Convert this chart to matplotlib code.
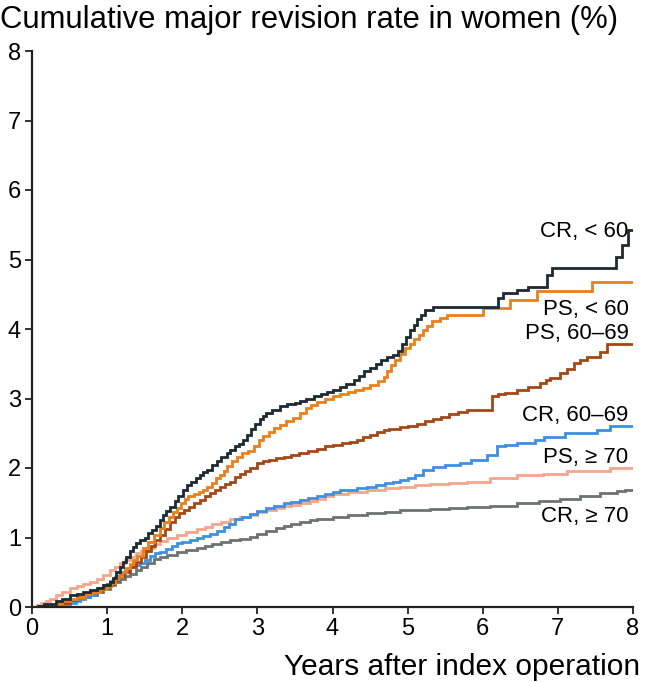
import matplotlib
matplotlib.use("Agg")
import matplotlib.pyplot as plt

plt.rcParams['font.family'] = ['Liberation Sans', 'DejaVu Sans']

# ---- data (years, cumulative %) ----
cr60_t = [0, 0.08, 0.16, 0.24, 0.32, 0.4, 0.51, 0.6, 0.68, 0.77, 0.86, 0.95, 1.04, 1.08, 1.12, 1.17, 1.21, 1.25,
          1.3, 1.35, 1.39, 1.44, 1.5, 1.55, 1.6, 1.65, 1.7, 1.75, 1.79, 1.84, 1.9, 1.95, 2.01, 2.06, 2.12, 2.18,
          2.24, 2.28, 2.33, 2.4, 2.46, 2.52, 2.59, 2.64, 2.7, 2.75, 2.81, 2.86, 2.92, 2.97, 3.03, 3.08, 3.12,
          3.2, 3.3, 3.4, 3.5, 3.57, 3.65, 3.75, 3.85, 3.93, 4.01, 4.1, 4.18, 4.28, 4.35, 4.42, 4.5, 4.58, 4.65,
          4.73, 4.8, 4.87, 4.93, 4.98, 5.03, 5.08, 5.13, 5.18, 5.23, 5.34, 6.2, 6.27, 6.45, 6.6, 6.85, 6.92,
          7.78, 7.85, 7.93, 8.0]
cr60_y = [0, 0.02, 0.04, 0.05, 0.08, 0.11, 0.17, 0.19, 0.21, 0.24, 0.27, 0.31, 0.36, 0.42, 0.5, 0.58, 0.65, 0.72,
          0.8, 0.86, 0.92, 0.96, 1.0, 1.06, 1.11, 1.17, 1.25, 1.32, 1.38, 1.44, 1.52, 1.6, 1.68, 1.76, 1.8, 1.86,
          1.9, 1.94, 1.97, 2.04, 2.1, 2.16, 2.21, 2.26, 2.31, 2.35, 2.4, 2.48, 2.56, 2.63, 2.7, 2.75, 2.79,
          2.84, 2.89, 2.92, 2.94, 2.96, 3.0, 3.04, 3.07, 3.1, 3.12, 3.16, 3.21, 3.27, 3.33, 3.39, 3.44, 3.5, 3.55,
          3.59, 3.63, 3.68, 3.79, 3.88, 3.98, 4.06, 4.14, 4.2, 4.27, 4.31, 4.45, 4.52, 4.56, 4.61, 4.78, 4.88,
          5.04, 5.21, 5.42, 5.42]

ps60_t = [0, 0.1, 0.2, 0.3, 0.4, 0.5, 0.6, 0.7, 0.8, 0.9, 1.0, 1.05, 1.1, 1.15, 1.2, 1.25, 1.3, 1.35, 1.4, 1.48,
          1.55, 1.62, 1.7, 1.76, 1.82, 1.88, 1.93, 1.98, 2.03, 2.08, 2.15, 2.22, 2.28, 2.33, 2.39, 2.45, 2.5,
          2.55, 2.6, 2.66, 2.73, 2.8, 2.87, 2.95, 3.02, 3.08, 3.15, 3.22, 3.3, 3.38, 3.47, 3.57, 3.65, 3.72, 3.8,
          3.9, 4.01, 4.1, 4.2, 4.3, 4.4, 4.5, 4.6, 4.68, 4.73, 4.78, 4.83, 4.9, 4.97, 5.03, 5.09, 5.15, 5.2,
          5.26, 5.33, 5.43, 5.52, 6.0, 6.36, 6.72, 7.45, 8.0]
ps60_y = [0, 0.01, 0.03, 0.05, 0.08, 0.11, 0.14, 0.18, 0.22, 0.26, 0.3, 0.35, 0.4, 0.45, 0.5, 0.56, 0.62, 0.68,
          0.74, 0.85, 0.94, 1.03, 1.14, 1.22, 1.3, 1.36, 1.42, 1.5, 1.56, 1.6, 1.63, 1.66, 1.69, 1.72, 1.78,
          1.85, 1.9, 1.95, 2.03, 2.1, 2.16, 2.21, 2.25, 2.32, 2.4, 2.46, 2.52, 2.57, 2.62, 2.67, 2.72, 2.79,
          2.86, 2.91, 2.95, 2.99, 3.03, 3.06, 3.09, 3.12, 3.15, 3.19, 3.25, 3.31, 3.4, 3.48, 3.56, 3.64, 3.72,
          3.78, 3.85, 3.92, 3.99, 4.05, 4.11, 4.16, 4.2, 4.3, 4.42, 4.54, 4.68, 4.68]

ps6069_t = [0, 0.15, 0.3, 0.4, 0.5, 0.6, 0.7, 0.8, 0.9, 1.0, 1.08, 1.15, 1.23, 1.3, 1.38, 1.45, 1.52, 1.58, 1.64,
            1.7, 1.77, 1.84, 1.9, 1.96, 2.02, 2.09, 2.16, 2.23, 2.3, 2.37, 2.44, 2.5, 2.57, 2.64, 2.7, 2.77,
            2.84, 2.9, 2.99, 3.08, 3.15, 3.25, 3.35, 3.45, 3.55, 3.67, 3.79, 3.9, 4.0, 4.12, 4.23, 4.32, 4.4,
            4.5, 4.59, 4.68, 4.75, 4.9, 5.0, 5.12, 5.23, 5.34, 5.45, 5.55, 5.67, 5.79, 6.12, 6.2, 6.3, 6.45,
            6.6, 6.76, 6.84, 6.9, 7.03, 7.12, 7.21, 7.3, 7.39, 7.56, 7.65, 8.0]
ps6069_y = [0, 0.01, 0.03, 0.06, 0.1, 0.14, 0.18, 0.23, 0.28, 0.33, 0.39, 0.45, 0.51, 0.58, 0.65, 0.72, 0.8, 0.88,
            0.96, 1.03, 1.12, 1.22, 1.29, 1.35, 1.39, 1.44, 1.49, 1.54, 1.59, 1.64, 1.69, 1.73, 1.77, 1.8, 1.87,
            1.92, 1.96, 2.0, 2.07, 2.1, 2.12, 2.14, 2.16, 2.19, 2.22, 2.25, 2.28, 2.31, 2.33, 2.36, 2.38, 2.41,
            2.44, 2.48, 2.52, 2.54, 2.56, 2.59, 2.61, 2.64, 2.67, 2.71, 2.74, 2.77, 2.8, 2.83, 3.03, 3.06, 3.08,
            3.12, 3.17, 3.22, 3.26, 3.3, 3.36, 3.43, 3.51, 3.56, 3.6, 3.67, 3.79, 3.79]

cr6069_t = [0, 0.2, 0.3, 0.4, 0.51, 0.58, 0.64, 0.7, 0.77, 0.84, 0.9, 0.97, 1.04, 1.1, 1.17, 1.24, 1.3, 1.37, 1.44,
            1.5, 1.57, 1.64, 1.7, 1.78, 1.86, 1.93, 2.0, 2.1, 2.19, 2.28, 2.37, 2.46, 2.55, 2.62, 2.7, 2.8, 2.9,
            3.0, 3.12, 3.22, 3.35, 3.45, 3.57, 3.68, 3.8, 3.9, 4.01, 4.1, 4.2, 4.33, 4.46, 4.58, 4.7, 4.8, 4.9,
            5.0, 5.1, 5.2, 5.34, 5.5, 5.7, 5.85, 6.05, 6.19, 6.3, 6.45, 6.7, 6.81, 7.1, 7.52, 7.7, 8.0]
cr6069_y = [0, 0.01, 0.02, 0.04, 0.06, 0.09, 0.12, 0.15, 0.17, 0.22, 0.27, 0.32, 0.38, 0.43, 0.48, 0.53, 0.57, 0.61,
            0.64, 0.68, 0.73, 0.77, 0.79, 0.84, 0.88, 0.92, 0.94, 0.97, 1.0, 1.02, 1.05, 1.1, 1.15, 1.2, 1.26, 1.3,
            1.34, 1.38, 1.43, 1.46, 1.49, 1.51, 1.54, 1.57, 1.6, 1.63, 1.66, 1.68, 1.69, 1.71, 1.73, 1.76, 1.78,
            1.8, 1.83, 1.86, 1.9, 1.97, 2.02, 2.04, 2.07, 2.12, 2.19, 2.31, 2.33, 2.36, 2.4, 2.45, 2.5, 2.55, 2.61,
            2.61]

ps70_t = [0, 0.06, 0.12, 0.18, 0.24, 0.32, 0.4, 0.51, 0.6, 0.68, 0.77, 0.86, 0.95, 1.04, 1.1, 1.17, 1.24, 1.3,
          1.38, 1.45, 1.53, 1.62, 1.7, 1.8, 1.93, 2.05, 2.19, 2.3, 2.4, 2.52, 2.64, 2.77, 2.9, 3.0, 3.12, 3.25,
          3.35, 3.45, 3.57, 3.7, 3.8, 3.9, 4.01, 4.2, 4.46, 4.7, 4.9, 5.1, 5.3, 5.55, 5.79, 6.1, 6.45, 6.8,
          7.12, 7.7, 8.0]
ps70_y = [0, 0.03, 0.06, 0.09, 0.12, 0.17, 0.22, 0.27, 0.3, 0.33, 0.36, 0.41, 0.46, 0.53, 0.58, 0.63, 0.68, 0.72,
          0.77, 0.81, 0.85, 0.9, 0.95, 0.99, 1.04, 1.08, 1.12, 1.15, 1.19, 1.23, 1.27, 1.3, 1.33, 1.36, 1.39,
          1.42, 1.45, 1.47, 1.49, 1.53, 1.56, 1.6, 1.63, 1.66, 1.69, 1.71, 1.73, 1.75, 1.77, 1.79, 1.8, 1.85,
          1.9, 1.92, 1.95, 2.0, 2.0]

cr70_t = [0, 0.12, 0.24, 0.35, 0.42, 0.51, 0.6, 0.68, 0.77, 0.86, 0.95, 1.04, 1.1, 1.17, 1.24, 1.3, 1.38, 1.45,
          1.53, 1.62, 1.7, 1.8, 1.93, 2.05, 2.19, 2.3, 2.4, 2.52, 2.64, 2.77, 2.9, 3.0, 3.12, 3.25, 3.35, 3.45,
          3.57, 3.7, 3.8, 4.01, 4.2, 4.46, 4.7, 4.9, 5.1, 5.3, 5.55, 5.79, 6.1, 6.45, 6.75, 7.03, 7.3, 7.56,
          7.79, 7.9, 8.0]
cr70_y = [0, 0.01, 0.03, 0.06, 0.08, 0.1, 0.13, 0.15, 0.17, 0.21, 0.26, 0.32, 0.36, 0.41, 0.45, 0.48, 0.53, 0.58,
          0.64, 0.69, 0.72, 0.75, 0.79, 0.82, 0.85, 0.88, 0.91, 0.93, 0.96, 0.98, 1.01, 1.05, 1.09, 1.13, 1.17,
          1.2, 1.23, 1.25, 1.27, 1.3, 1.32, 1.35, 1.37, 1.39, 1.4, 1.41, 1.43, 1.44, 1.46, 1.49, 1.52, 1.56, 1.6,
          1.64, 1.67, 1.69, 1.69]

labels = ["CR, < 60", "PS, < 60", "PS, 60–69", "CR, 60–69", "PS, ≥ 70", "CR, ≥ 70"]
label_y = [5.32, 4.20, 3.85, 2.67, 2.07, 1.23]

series = [
    (cr70_t, cr70_y, '#6b7471'),
    (ps70_t, ps70_y, '#f4a68c'),
    (cr6069_t, cr6069_y, '#3d8fe4'),
    (ps6069_t, ps6069_y, '#a44716'),
    (ps60_t, ps60_y, '#e8801c'),
    (cr60_t, cr60_y, '#1d2a33'),
]

fig = plt.figure(figsize=(6.54, 6.82), dpi=100)
ax = fig.add_axes([32/654, 75/682, 601/654, 556/682])

for t, y, c in series:
    ax.plot(t, y, drawstyle='steps-post', color=c, lw=2.0, solid_joinstyle='miter')

for lab, ly in zip(labels, label_y):
    ax.text(7.94, ly, lab, ha='right', va='baseline', fontsize=16, color='black')

ax.set_xlim(0, 8)
ax.set_ylim(0, 8)
ax.set_xticks(range(9))
ax.set_yticks(range(9))
ax.tick_params(direction='out', length=5, width=1.3, color='#222222', labelsize=17, pad=3)
for s in ['top', 'right']:
    ax.spines[s].set_visible(False)
for s in ['left', 'bottom']:
    ax.spines[s].set_linewidth(1.6)
    ax.spines[s].set_color('#222222')

fig.text(0.0, 1 - 28/682, "Cumulative major revision rate in women (%)", ha='left', va='baseline', fontsize=22.3)
fig.text(640/654, 1 - 675/682, "Years after index operation", ha='right', va='baseline', fontsize=21.5)

fig.savefig("out.png", dpi=100)
